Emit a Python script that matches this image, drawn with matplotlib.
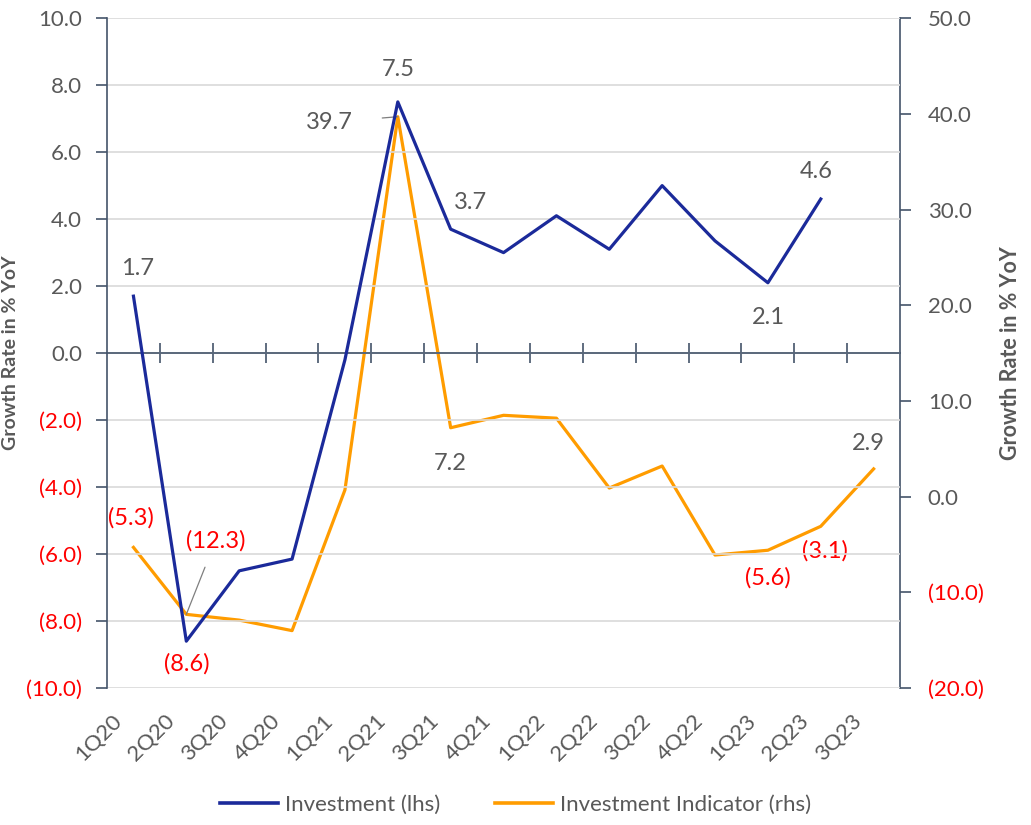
import matplotlib
matplotlib.use("Agg")
from matplotlib import pyplot as plt
from matplotlib.lines import Line2D
import matplotlib.transforms as mtransforms

quarters = ["1Q20", "2Q20", "3Q20", "4Q20", "1Q21", "2Q21", "3Q21", "4Q21",
            "1Q22", "2Q22", "3Q22", "4Q22", "1Q23", "2Q23", "3Q23"]
investment = [1.7, -8.6, -6.5, -6.15, -0.2, 7.5, 3.7, 3.0, 4.1, 3.1, 5.0, 3.35, 2.1, 4.6]
indicator = [-5.3, -12.3, -12.9, -14.0, 0.7, 39.7, 7.2, 8.5, 8.2, 0.9, 3.2, -6.1, -5.6, -3.1, 2.9]

# which points get a data label, and where (offset in points)
inv_labels = {0: (3, 20), 1: (0, -16), 5: (0, 23), 6: (14, 19), 12: (0, -25), 13: (-3, 20)}
ind_labels = {0: (-2, 21), 6: (0, -26), 12: (0, -20), 13: (3, -18), 14: (-4, 18)}

BLUE = "#1B2A9A"
ORANGE = "#FF9C00"
GREY = "#595959"
AXC = "#44546A"
FONT = "Lato"


def fmt(v):
    return "({:.1f})".format(abs(v)) if v < 0 else "{:.1f}".format(v)


def col(v):
    return "red" if v < 0 else GREY


def main():
    fig = plt.figure(figsize=(10.31, 8.25), dpi=100)
    ax = fig.add_axes([0.1038, 0.166, 0.7692, 0.812])
    ax2 = ax.twinx()

    x = list(range(len(quarters)))
    ax.plot(x[:len(investment)], investment, color=BLUE, lw=2.3, zorder=4)
    ax2.plot(x, indicator, color=ORANGE, lw=2.3, zorder=3)
    ax.set_zorder(ax2.get_zorder() + 1)
    ax.patch.set_visible(False)

    ax.set_xlim(-0.5, len(quarters) - 0.5)
    ax.set_ylim(-10, 10)
    ax2.set_ylim(-20, 50)

    lticks = [-10, -8, -6, -4, -2, 0, 2, 4, 6, 8, 10]
    ax.set_yticks(lticks)
    ax.set_yticklabels([fmt(t) for t in lticks], fontsize=16, family=FONT)
    for lbl, t in zip(ax.get_yticklabels(), lticks):
        lbl.set_color(col(t))
    rticks = [-20, -10, 0, 10, 20, 30, 40, 50]
    ax2.set_yticks(rticks)
    ax2.set_yticklabels([fmt(t) for t in rticks], fontsize=16, family=FONT)
    for lbl, t in zip(ax2.get_yticklabels(), rticks):
        lbl.set_color(col(t))

    ax.grid(axis="y", color="#D9D9D9", lw=1.2)
    ax.set_axisbelow(True)
    ax.tick_params(axis="y", length=8, color=AXC, width=1.2, pad=10)
    ax2.tick_params(axis="y", length=8, color=AXC, width=1.2, pad=12)

    for a in (ax, ax2):
        a.spines["top"].set_visible(False)
    ax2.spines["bottom"].set_visible(False)
    ax2.spines["left"].set_visible(False)
    ax.spines["right"].set_visible(False)
    ax.spines["left"].set_color(AXC)
    ax.spines["left"].set_linewidth(1.2)
    ax2.spines["right"].set_color(AXC)
    ax2.spines["right"].set_linewidth(1.2)

    # category axis crossing at zero
    ax.spines["bottom"].set_position(("data", 0))
    ax.spines["bottom"].set_color(AXC)
    ax.spines["bottom"].set_linewidth(1.2)
    ax.set_xticks([i + 0.5 for i in x[:-1]])
    ax.set_xticklabels([])
    ax.tick_params(axis="x", direction="inout", length=14, color=AXC, width=1.2)

    sec = ax.secondary_xaxis("bottom")
    sec.spines["bottom"].set_visible(False)
    sec.set_xticks(x)
    sec.set_xticklabels(quarters, rotation=45, ha="right", rotation_mode="anchor",
                        fontsize=16, family=FONT, color=GREY)
    sec.tick_params(axis="x", length=0, pad=16)
    shift = mtransforms.ScaledTranslation(-22 / 100, 0, fig.dpi_scale_trans)
    for lbl in sec.get_xticklabels():
        lbl.set_transform(lbl.get_transform() + shift)

    ax2.set_ylabel("Growth Rate in % YoY", fontsize=15.5, fontweight="bold",
                   color=GREY, family=FONT, labelpad=12)
    fig.text(0.002, 0.572, "Growth Rate in % YoY", rotation=90, fontsize=14,
             fontweight="bold", color=GREY, family=FONT, ha="left", va="center")

    # data labels
    for i, (dx, dy) in inv_labels.items():
        v = investment[i]
        ax.annotate(fmt(v), (i, v), xytext=(dx, dy), textcoords="offset points",
                    ha="center", va="center", fontsize=17, family=FONT, color=col(v))
    for i, (dx, dy) in ind_labels.items():
        v = indicator[i]
        ax2.annotate(fmt(v), (i, v), xytext=(dx, dy), textcoords="offset points",
                     ha="center", va="center", fontsize=17, family=FONT, color=col(v))
    # labels with leader lines
    v = indicator[1]
    ax2.annotate(fmt(v), (1, v), xytext=(21, 53), textcoords="offset points",
                 ha="center", va="center", fontsize=17, family=FONT, color=col(v),
                 arrowprops=dict(arrowstyle="-", color="#7F7F7F", lw=0.9,
                                 shrinkA=10, shrinkB=0))
    v = indicator[5]
    ax2.annotate(fmt(v), (5, v), xytext=(-49, -4), textcoords="offset points",
                 ha="center", va="center", fontsize=17, family=FONT, color=col(v),
                 arrowprops=dict(arrowstyle="-", color="#7F7F7F", lw=0.9,
                                 shrinkA=19, shrinkB=0))

    handles = [Line2D([], [], color=BLUE, lw=2.6), Line2D([], [], color=ORANGE, lw=2.6)]
    fig.legend(handles, ["Investment (lhs)", "Investment Indicator (rhs)"],
               loc="lower center", bbox_to_anchor=(0.5, -0.012), ncol=2, frameon=False,
               prop={"family": FONT, "size": 16}, labelcolor=GREY,
               handlelength=2.6, columnspacing=2.5, handletextpad=0.3)

    fig.savefig("out.png", dpi=100)


if __name__ == "__main__":
    main()
